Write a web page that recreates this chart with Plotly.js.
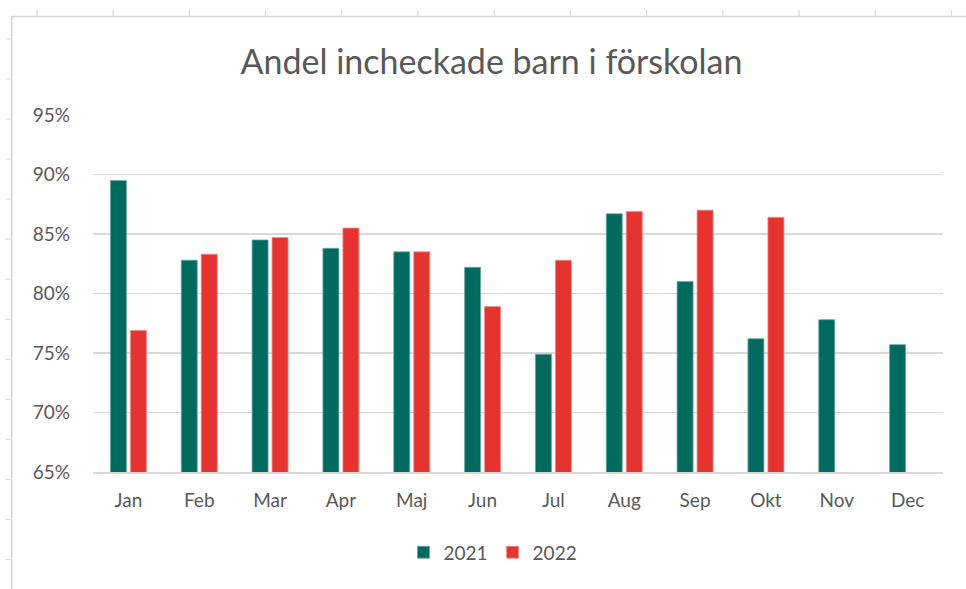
<!DOCTYPE html>
<html>
<head>
<meta charset="utf-8">
<script src="https://cdn.plot.ly/plotly-3.0.1.min.js"></script>
<style>
  html, body { margin: 0; padding: 0; background: #ffffff; }
  #chart { width: 966px; height: 589px; }
</style>
</head>
<body>
<div id="chart"></div>
<script>
// ---- data ----
const months = ["Jan", "Feb", "Mar", "Apr", "Maj", "Jun", "Jul", "Aug", "Sep", "Okt", "Nov", "Dec"];
const values2021 = [0.895, 0.828, 0.845, 0.838, 0.835, 0.822, 0.749, 0.867, 0.810, 0.762, 0.778, 0.757];
const values2022 = [0.769, 0.833, 0.847, 0.855, 0.835, 0.789, 0.828, 0.869, 0.870, 0.864, null, null];
const yTicks = [0.65, 0.70, 0.75, 0.80, 0.85, 0.90, 0.95];

// ---- layout geometry (pixels) ----
const W = 966, H = 589;
const L = 93, R = 943, T = 115, B = 471.7;
const px = x => (x - L) / (R - L);
const py = y => 1 - (y - T) / (B - T);

const textColor = "#595959";
const font = "Lato, 'Open Sans', sans-serif";

// spreadsheet background decorations (cell grid peeking around the chart)
const shapes = [];
const deco = "#d6d6d6";
shapes.push({type: "line", xref: "paper", yref: "paper", x0: px(11.7), x1: px(W), y0: py(16.7), y1: py(16.7), line: {color: deco, width: 1.5}, layer: "below"});
shapes.push({type: "line", xref: "paper", yref: "paper", x0: px(11.7), x1: px(11.7), y0: py(16.7), y1: py(H), line: {color: deco, width: 1.5}, layer: "below"});
for (let x = 37; x < W; x += 76.2) {
  shapes.push({type: "line", xref: "paper", yref: "paper", x0: px(x), x1: px(x), y0: py(10), y1: py(16.7), line: {color: deco, width: 1}, layer: "below"});
}
for (let y = 39; y < H; y += 40) {
  shapes.push({type: "line", xref: "paper", yref: "paper", x0: px(5), x1: px(11.7), y0: py(y), y1: py(y), line: {color: deco, width: 1}, layer: "below"});
}

const traces = [
  {
    type: "bar", name: "2021", x: months, y: values2021,
    marker: {color: "#006A5E", line: {color: "#6fa9a2", width: 0.8}},
    hoverinfo: "skip"
  },
  {
    type: "bar", name: "2022", x: months, y: values2022,
    marker: {color: "#E53330", line: {color: "#f08a88", width: 0.8}},
    hoverinfo: "skip"
  }
];

const layout = {
  width: W, height: H,
  margin: {l: L, r: W - R, t: T, b: H - B, pad: 0},
  paper_bgcolor: "#ffffff",
  plot_bgcolor: "#ffffff",
  title: {
    text: "Andel incheckade barn i förskolan",
    font: {family: font, size: 34, color: textColor},
    x: 491.5 / W, xref: "container", xanchor: "center",
    y: 1 - 62 / H, yref: "container", yanchor: "middle"
  },
  barmode: "group",
  bargap: 0.435,
  bargroupgap: 0.2,
  xaxis: {
    type: "category",
    showgrid: false,
    showline: true, linecolor: "#d9d9d9", linewidth: 1.5,
    ticks: "",
    tickfont: {family: font, size: 19, color: textColor},
    ticklabelstandoff: 11,
    fixedrange: true
  },
  yaxis: {
    range: [0.65, 0.95],
    tickvals: yTicks,
    tickformat: ".0%",
    showgrid: true, gridcolor: "#d9d9d9", gridwidth: 1.5,
    zeroline: false, showline: false,
    ticks: "",
    tickfont: {family: font, size: 19, color: textColor},
    ticklabelstandoff: 22,
    fixedrange: true
  },
  legend: {
    orientation: "h",
    x: px(493), xanchor: "center",
    y: py(552), yanchor: "middle",
    font: {family: font, size: 19, color: textColor},
    bgcolor: "rgba(0,0,0,0)",
    itemclick: false, itemdoubleclick: false
  },
  shapes: shapes,
  showlegend: true
};

Plotly.newPlot("chart", traces, layout, {displayModeBar: false, staticPlot: true});
</script>
</body>
</html>
